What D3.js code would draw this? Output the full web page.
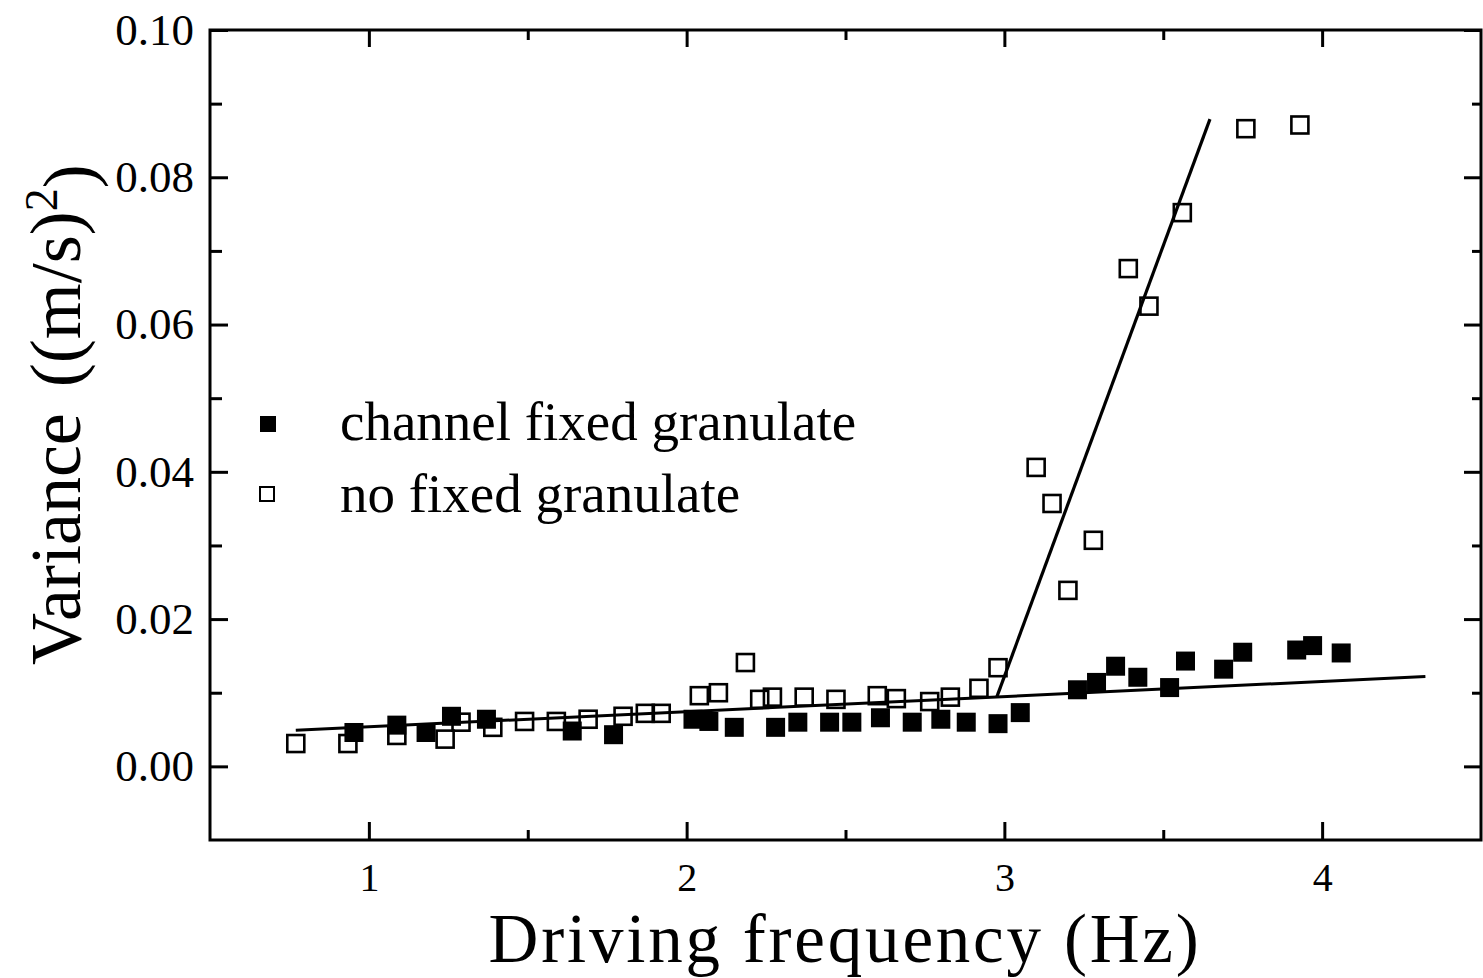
<!DOCTYPE html>
<html>
<head>
<meta charset="utf-8">
<script src="https://cdn.jsdelivr.net/npm/d3@7"></script>
<style>
  html, body { margin: 0; padding: 0; background: #fff; }
  svg { display: block; }
  text { font-family: "Liberation Serif", "Times New Roman", serif; fill: #000; }
</style>
</head>
<body>
<svg id="chart" width="1483" height="978"></svg>
<script>
// ---- data ----
const openX = [0.77, 0.934, 1.088, 1.24, 1.29, 1.39, 1.49, 1.59, 1.69, 1.80, 1.87, 1.92, 2.04, 2.10, 2.185, 2.23, 2.27, 2.37, 2.47, 2.60, 2.66, 2.765, 2.83, 2.92, 2.98, 3.10, 3.15, 3.20, 3.28, 3.39, 3.455, 3.56, 3.76, 3.93];
const openY = [0.0031, 0.0031, 0.0042, 0.0037, 0.0060, 0.0053, 0.0061, 0.0061, 0.0064, 0.0068, 0.0072, 0.0072, 0.0096, 0.0100, 0.0141, 0.0091, 0.0094, 0.0094, 0.0091, 0.0096, 0.0092, 0.0088, 0.0094, 0.0106, 0.0134, 0.0406, 0.0357, 0.0239, 0.0307, 0.0676, 0.0625, 0.0752, 0.0866, 0.0871];
const filledX = [0.953, 1.088, 1.18, 1.26, 1.37, 1.64, 1.77, 2.02, 2.07, 2.15, 2.28, 2.35, 2.45, 2.52, 2.61, 2.71, 2.80, 2.88, 2.98, 3.05, 3.23, 3.29, 3.35, 3.42, 3.52, 3.57, 3.69, 3.75, 3.92, 3.97, 4.06];
const filledY = [0.0046, 0.0056, 0.0046, 0.0068, 0.0064, 0.0048, 0.0043, 0.0064, 0.0061, 0.0053, 0.0053, 0.0060, 0.0060, 0.0060, 0.0066, 0.0060, 0.0064, 0.0060, 0.0058, 0.0073, 0.0104, 0.0114, 0.0136, 0.0121, 0.0107, 0.0143, 0.0132, 0.0155, 0.0158, 0.0164, 0.0154];
const flatLineX = [0.77, 4.325];
const flatLineY = [0.0049, 0.0122];
const steepLineX = [2.976, 3.647];
const steepLineY = [0.0094, 0.0879];
const xMajorTicks = [1, 2, 3, 4];
const xMinorTicks = [1.5, 2.5, 3.5];
const yMajorTicks = [0.00, 0.02, 0.04, 0.06, 0.08, 0.10];
const yMinorTicks = [0.01, 0.03, 0.05, 0.07, 0.09];
const legendLabels = ["channel fixed granulate", "no fixed granulate"];
const xTitle = "Driving frequency (Hz)";

// ---- layout ----
const L = 210, R = 1481, T = 30, B = 840;
const svg = d3.select("#chart");
const x = d3.scaleLinear().domain([0.5, 4.5]).range([L, R]);
const y = d3.scaleLinear().domain([-0.01, 0.10]).range([B, T]);

// frame
svg.append("rect").attr("x", L).attr("y", T).attr("width", R - L).attr("height", B - T)
  .attr("fill", "none").attr("stroke", "#000").attr("stroke-width", 3);

function styleAxis(g) {
  g.select(".domain").remove();
  g.selectAll(".tick line").attr("stroke", "#000").attr("stroke-width", 3);
  g.selectAll("text").style("font-family", '"Liberation Serif", serif').attr("fill", "#000");
}

// left axis major
svg.append("g").attr("transform", `translate(${L},0)`)
  .call(d3.axisLeft(y).tickValues(yMajorTicks).tickSizeInner(-18).tickSizeOuter(0).tickPadding(16).tickFormat(d3.format(".2f")))
  .call(styleAxis)
  .selectAll("text").style("font-size", "45px");
svg.append("g").attr("transform", `translate(${L},0)`)
  .call(d3.axisLeft(y).tickValues(yMinorTicks).tickSizeInner(-12).tickSizeOuter(0).tickFormat(""))
  .call(styleAxis);
// right axis
svg.append("g").attr("transform", `translate(${R},0)`)
  .call(d3.axisRight(y).tickValues(yMajorTicks).tickSizeInner(-17).tickSizeOuter(0).tickFormat(""))
  .call(styleAxis);
svg.append("g").attr("transform", `translate(${R},0)`)
  .call(d3.axisRight(y).tickValues(yMinorTicks).tickSizeInner(-9).tickSizeOuter(0).tickFormat(""))
  .call(styleAxis);
// bottom axis
svg.append("g").attr("transform", `translate(0,${B})`)
  .call(d3.axisBottom(x).tickValues(xMajorTicks).tickSizeInner(-18).tickSizeOuter(0).tickPadding(23).tickFormat(d3.format("d")))
  .call(styleAxis)
  .selectAll("text").style("font-size", "40px");
svg.append("g").attr("transform", `translate(0,${B})`)
  .call(d3.axisBottom(x).tickValues(xMinorTicks).tickSizeInner(-10).tickSizeOuter(0).tickFormat(""))
  .call(styleAxis);
// top axis
svg.append("g").attr("transform", `translate(0,${T})`)
  .call(d3.axisTop(x).tickValues(xMajorTicks).tickSizeInner(-17).tickSizeOuter(0).tickFormat(""))
  .call(styleAxis);
svg.append("g").attr("transform", `translate(0,${T})`)
  .call(d3.axisTop(x).tickValues(xMinorTicks).tickSizeInner(-10).tickSizeOuter(0).tickFormat(""))
  .call(styleAxis);

// fit lines
const line = d3.line().x(d => x(d[0])).y(d => y(d[1]));
svg.append("path").datum(d3.zip(flatLineX, flatLineY)).attr("d", line)
  .attr("fill", "none").attr("stroke", "#000").attr("stroke-width", 3);
svg.append("path").datum(d3.zip(steepLineX, steepLineY)).attr("d", line)
  .attr("fill", "none").attr("stroke", "#000").attr("stroke-width", 3.2);

// markers
const fs = 19, os = 17;
svg.append("g").selectAll("rect").data(d3.zip(filledX, filledY)).join("rect")
  .attr("x", d => x(d[0]) - fs / 2).attr("y", d => y(d[1]) - fs / 2)
  .attr("width", fs).attr("height", fs).attr("fill", "#000");
svg.append("g").selectAll("rect").data(d3.zip(openX, openY)).join("rect")
  .attr("x", d => x(d[0]) - os / 2).attr("y", d => y(d[1]) - os / 2)
  .attr("width", os).attr("height", os).attr("fill", "none")
  .attr("stroke", "#000").attr("stroke-width", 2.6);

// legend
const leg = svg.append("g");
leg.append("rect").attr("x", 260).attr("y", 416).attr("width", 16).attr("height", 16).attr("fill", "#000");
leg.append("rect").attr("x", 260).attr("y", 487).attr("width", 14).attr("height", 14)
  .attr("fill", "none").attr("stroke", "#000").attr("stroke-width", 2);
leg.append("text").attr("x", 340).attr("y", 440).style("font-size", "55px").text(legendLabels[0]);
leg.append("text").attr("x", 340).attr("y", 512).style("font-size", "55px").text(legendLabels[1]);

// x title
svg.append("text").attr("x", 845).attr("y", 962).attr("text-anchor", "middle")
  .style("font-size", "69px").style("letter-spacing", "2.8px").text(xTitle);

// y title
const yt = svg.append("text").attr("transform", "translate(80,665) rotate(-90)")
  .attr("text-anchor", "start").style("font-size", "72px");
yt.append("tspan").text("Variance");
yt.append("tspan").attr("dx", "26").text("((m/s)");
yt.append("tspan").attr("dy", "-0.5em").style("font-size", "46px").text("2");
yt.append("tspan").attr("dy", "0.5em").text(")");
</script>
</body>
</html>
